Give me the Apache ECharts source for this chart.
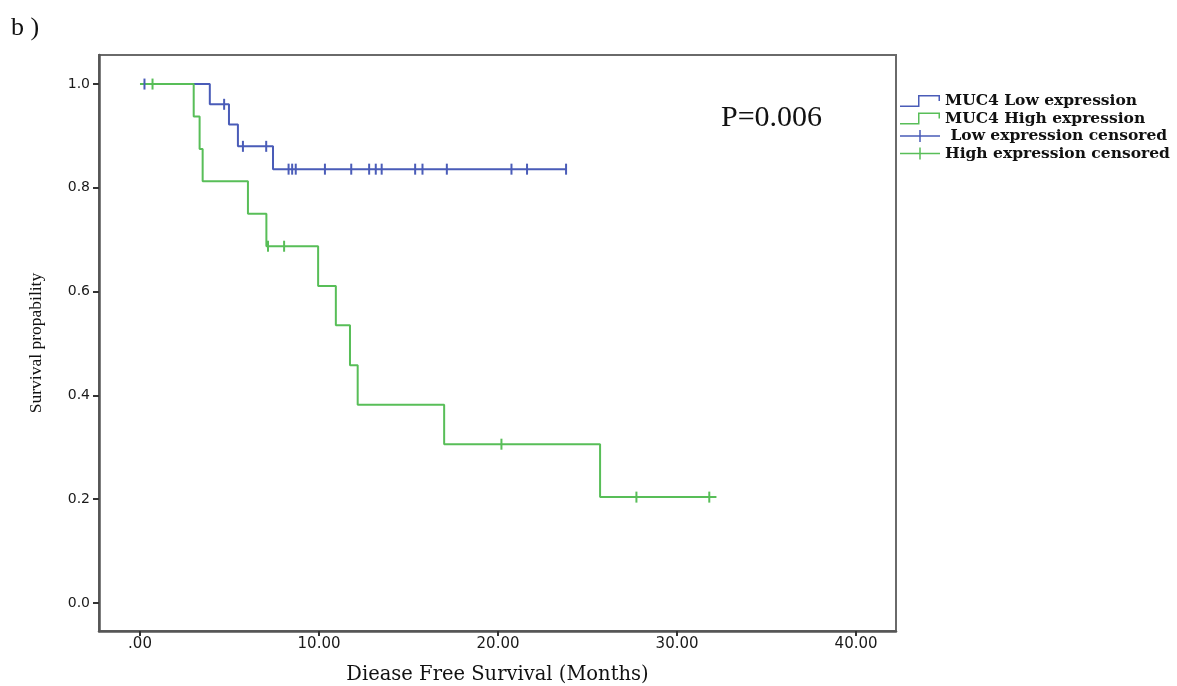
<!DOCTYPE html>
<html>
<head>
<meta charset="utf-8">
<script src="https://cdn.jsdelivr.net/npm/echarts@6/dist/echarts.min.js"></script>
<style>
html,body{margin:0;padding:0;background:#fff;}
#chart{width:1177px;height:686px;}
</style>
</head>
<body>
<div id="chart"></div>
<script>
// ---- data ----
var xTicks = [0, 10, 20, 30, 40];
var yTicks = [0, 0.2, 0.4, 0.6, 0.8, 1.0];

var lowTimes = [0, 3.9, 4.97, 5.47, 7.43, 23.8];
var lowSurv  = [1, 0.961, 0.922, 0.880, 0.836, 0.836];
var lowCensorTimes = [0.25, 4.7, 5.75, 7.05, 8.3, 8.5, 8.7, 10.33, 11.8, 12.8, 13.17, 13.5, 15.37, 15.78, 17.14, 20.75, 21.62, 23.8];
var lowCensorSurv  = [1, 0.961, 0.880, 0.880, 0.836, 0.836, 0.836, 0.836, 0.836, 0.836, 0.836, 0.836, 0.836, 0.836, 0.836, 0.836, 0.836, 0.836];

var highTimes = [0, 3.0, 3.33, 3.5, 6.03, 7.06, 9.95, 10.94, 11.73, 12.16, 16.99, 25.7, 32.2];
var highSurv  = [1, 0.9375, 0.875, 0.8125, 0.75, 0.6875, 0.611, 0.535, 0.458, 0.382, 0.306, 0.204, 0.204];
var highCensorTimes = [0.7, 7.15, 8.05, 20.19, 27.73, 31.8];
var highCensorSurv  = [1, 0.6875, 0.6875, 0.306, 0.204, 0.204];

var seriesNames = ['MUC4 Low expression', 'MUC4 High expression', ' Low expression censored', 'High expression censored'];

function zip(a, b) { return a.map(function (v, i) { return [v, b[i]]; }); }

var BLUE = '#4a5cb8';
var GREEN = '#58be58';
var stepIcon = 'path://M0,10.5 L18,10.5 L18,0 L40,0 L40,6 L38.5,6 L38.5,1.5 L19.5,1.5 L19.5,12 L0,12 Z';
var crossIcon = 'path://M0,5.25 L19.25,5.25 L19.25,0 L20.75,0 L20.75,5.25 L40,5.25 L40,6.75 L20.75,6.75 L20.75,12 L19.25,12 L19.25,6.75 L0,6.75 Z';

var chart = echarts.init(document.getElementById('chart'));
chart.setOption({
  backgroundColor: '#fff',
  animation: false,
  title: [
    { text: 'b )', left: 11, top: 15, padding: 0, textStyle: { fontFamily: 'Liberation Serif', fontSize: 26, fontWeight: 'normal', color: '#111' } },
    { text: 'P=0.006', left: 721, top: 103, padding: 0, textStyle: { fontFamily: 'Liberation Serif', fontSize: 30, fontWeight: 'normal', color: '#111' } }
  ],
  legend: {
    orient: 'vertical',
    left: 900,
    top: 93,
    padding: 0,
    itemWidth: 40,
    itemHeight: 12,
    itemGap: 1.5,
    textStyle: { fontFamily: 'DejaVu Serif', fontSize: 15.5, fontWeight: 'bold', lineHeight: 14, color: '#111' },
    data: [
      { name: seriesNames[0], icon: stepIcon },
      { name: seriesNames[1], icon: stepIcon },
      { name: seriesNames[2], icon: crossIcon },
      { name: seriesNames[3], icon: crossIcon }
    ]
  },
  grid: {
    left: 99, right: 281, top: 55, bottom: 55,
    outerBoundsMode: 'none', containLabel: false,
    show: true, borderColor: '#6a6a6a', borderWidth: 2
  },
  xAxis: {
    type: 'value',
    min: -2.29, max: 42.23,
    name: 'Diease Free Survival (Months)',
    nameLocation: 'middle',
    nameGap: 34,
    nameTextStyle: { fontFamily: 'DejaVu Serif', fontSize: 19.5, color: '#111' },
    splitLine: { show: false },
    axisLine: { show: true, onZero: false, lineStyle: { color: '#555', width: 2.5 } },
    axisTick: { show: true, customValues: xTicks, length: 5, lineStyle: { color: '#333', width: 2 } },
    axisLabel: {
      customValues: xTicks, margin: 6,
      fontFamily: 'DejaVu Sans', fontSize: 15, color: '#1a1a1a',
      formatter: function (v) { return v === 0 ? '.00' : v.toFixed(2); }
    }
  },
  yAxis: {
    type: 'value',
    min: -0.054, max: 1.056,
    name: 'Survival propability',
    nameLocation: 'middle',
    nameGap: 54,
    nameTextStyle: { fontFamily: 'Liberation Serif', fontSize: 17.5, color: '#111' },
    splitLine: { show: false },
    axisLine: { show: true, onZero: false, lineStyle: { color: '#555', width: 2.5 } },
    axisTick: { show: true, customValues: yTicks, length: 6, lineStyle: { color: '#333', width: 2 } },
    axisLabel: {
      customValues: yTicks, margin: 9,
      fontFamily: 'DejaVu Sans', fontSize: 14, color: '#1a1a1a',
      formatter: function (v) { return v.toFixed(1); }
    }
  },
  series: [
    {
      name: seriesNames[0], type: 'line', step: 'end',
      data: zip(lowTimes, lowSurv), showSymbol: false, symbol: 'none',
      itemStyle: { color: BLUE }, lineStyle: { color: BLUE, width: 2 }, z: 2
    },
    {
      name: seriesNames[1], type: 'line', step: 'end',
      data: zip(highTimes, highSurv), showSymbol: false, symbol: 'none',
      itemStyle: { color: GREEN }, lineStyle: { color: GREEN, width: 2 }, z: 3
    },
    {
      name: seriesNames[2], type: 'scatter',
      data: zip(lowCensorTimes, lowCensorSurv),
      symbol: 'rect', symbolSize: [2, 11],
      itemStyle: { color: BLUE, opacity: 1 }, z: 4
    },
    {
      name: seriesNames[3], type: 'scatter',
      data: zip(highCensorTimes, highCensorSurv),
      symbol: 'rect', symbolSize: [2, 11],
      itemStyle: { color: GREEN, opacity: 1 }, z: 5
    }
  ]
});
</script>
</body>
</html>
